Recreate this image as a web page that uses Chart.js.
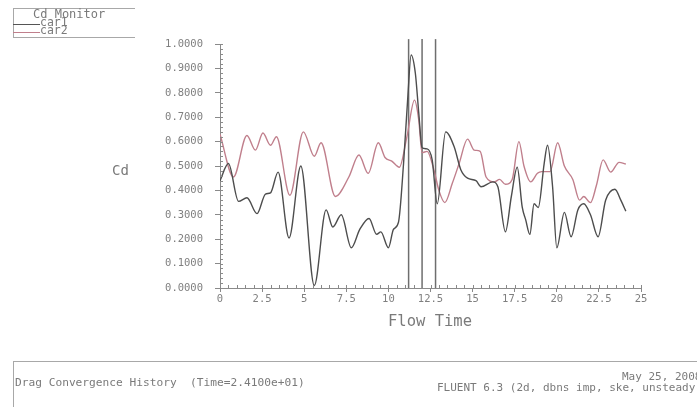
<!DOCTYPE html>
<html>
<head>
<meta charset="utf-8">
<script src="https://cdn.jsdelivr.net/npm/chart.js@4/dist/chart.umd.min.js"></script>
<style>
  html, body { margin: 0; padding: 0; background: #fff; overflow: hidden; }
  #wrap { position: relative; width: 697px; height: 407px; font-family: "DejaVu Sans Mono", monospace; color: #7a7a7a; }
  #wrap canvas { position: absolute; left: 0; top: 0; }
  .txt { position: absolute; white-space: pre; line-height: 1; }
  #legend { position: absolute; left: 13px; top: 8px; width: 122px; height: 30px; border: 1px solid #a8a8a8; border-right: none; box-sizing: border-box; }
  #footer { position: absolute; left: 13px; top: 361px; width: 700px; height: 60px; border: 1px solid #a8a8a8; box-sizing: border-box; }
  .swatch { position: absolute; left: 13px; width: 27px; height: 0; border-top: 1px solid; }
</style>
</head>
<body>
<div id="wrap">
  <canvas id="cdChart" width="697" height="407"></canvas>

  <div id="legend"></div>
  <div class="txt" style="left:33px;top:8px;font-size:12px;">Cd Monitor</div>
  <div class="swatch" style="top:24px;border-color:#555;"></div>
  <div class="txt" style="left:40px;top:17px;font-size:11.5px;">car1</div>
  <div class="swatch" style="top:32px;border-color:#c07f8c;"></div>
  <div class="txt" style="left:40px;top:25px;font-size:11.5px;">car2</div>

  <div class="txt" style="left:112px;top:163px;font-size:14px;">Cd</div>
  <div class="txt" style="left:388px;top:314px;font-size:15.5px;">Flow Time</div>

  <div id="footer"></div>
  <div class="txt" style="left:15px;top:377px;font-size:11.2px;">Drag Convergence History  (Time=2.4100e+01)</div>
  <div class="txt" style="left:622px;top:371px;font-size:11px;">May 25, 2008</div>
  <div class="txt" style="left:437px;top:382px;font-size:11px;">FLUENT 6.3 (2d, dbns imp, ske, unsteady)</div>
</div>

<script>
/* ---- data ---- */
const car1Time = [0, 0.5, 1.1, 1.6, 2.2, 2.7, 3.0, 3.45, 4.1, 4.8, 5.6, 6.3, 6.7, 7.2, 7.8, 8.3, 8.85, 9.3, 9.55,
                  10.0, 10.3, 10.6, 10.9, 11.15, 11.35, 11.6, 11.8, 12.0, 12.3, 12.6, 12.9, 13.4, 13.9, 14.3, 14.7,
                  15.2, 15.5, 16.2, 16.5, 16.95, 17.3, 17.65, 17.95, 18.15, 18.4, 18.65, 18.9, 19.25, 19.45, 19.75,
                  20.0, 20.45, 20.85, 21.25, 21.6, 22.0, 22.45, 22.9, 23.45, 23.8, 24.1];
const car1Cd   = [0.44, 0.51, 0.355, 0.37, 0.305, 0.385, 0.39, 0.475, 0.205, 0.50, 0.01, 0.32, 0.25, 0.30, 0.165, 0.24, 0.285, 0.22, 0.23,
                  0.165, 0.24, 0.27, 0.51, 0.78, 0.955, 0.88, 0.72, 0.575, 0.57, 0.525, 0.345, 0.64, 0.58, 0.485, 0.45,
                  0.44, 0.415, 0.435, 0.415, 0.23, 0.375, 0.495, 0.33, 0.28, 0.22, 0.345, 0.33, 0.51, 0.585, 0.415,
                  0.165, 0.31, 0.21, 0.32, 0.345, 0.30, 0.21, 0.36, 0.405, 0.36, 0.315];

const car2Time = [0, 0.8, 1.6, 2.1, 2.55, 3.0, 3.35, 4.15, 4.95, 5.6, 6.0, 6.85, 7.65, 8.25, 8.8, 9.4, 9.8,
                  10.2, 10.65, 11.1, 11.55, 11.8, 12.0, 12.3, 12.7, 13.0, 13.35, 13.8, 14.2, 14.7, 15.1, 15.45,
                  15.8, 16.3, 16.6, 16.95, 17.35, 17.75, 18.05, 18.45, 18.85, 19.1, 19.6, 20.05, 20.45, 20.95,
                  21.35, 21.6, 22.0, 22.35, 22.75, 23.2, 23.7, 24.1];
const car2Cd   = [0.63, 0.455, 0.625, 0.565, 0.635, 0.585, 0.62, 0.38, 0.64, 0.54, 0.595, 0.375, 0.455, 0.545, 0.47, 0.595, 0.535,
                  0.52, 0.495, 0.62, 0.77, 0.69, 0.555, 0.56, 0.485, 0.40, 0.35, 0.43, 0.51, 0.61, 0.565, 0.56,
                  0.455, 0.435, 0.445, 0.425, 0.445, 0.60, 0.50, 0.435, 0.47, 0.477, 0.477, 0.595, 0.50, 0.445,
                  0.36, 0.375, 0.35, 0.42, 0.525, 0.475, 0.515, 0.508];

const markerTimes = [11.2, 12.0, 12.8];   // the three vertical lines
const markerTop   = 1.02;

const yTicks = [0, 0.1, 0.2, 0.3, 0.4, 0.5, 0.6, 0.7, 0.8, 0.9, 1.0];
const xTicks = [0, 2.5, 5, 7.5, 10, 12.5, 15, 17.5, 20, 22.5, 25];

const zip = (xs, ys) => xs.map((x, i) => ({ x, y: ys[i] }));

const axisGray = '#8a8a8a';
const tickFont = { family: 'DejaVu Sans Mono', size: 10.5 };

/* small inward minor ticks along both axes */
const minorTicks = {
  id: 'minorTicks',
  afterDraw(chart) {
    const { ctx, chartArea: a, scales: { x, y } } = chart;
    ctx.save();
    ctx.strokeStyle = axisGray;
    ctx.lineWidth = 1;
    ctx.beginPath();
    for (let i = 0; i <= 50; i++) {
      const px = Math.round(x.getPixelForValue(i * 0.5)) + 0.5;
      ctx.moveTo(px, a.bottom);
      ctx.lineTo(px, a.bottom - 3);
    }
    for (let i = 0; i <= 50; i++) {
      const py = Math.round(y.getPixelForValue(i * 0.02)) + 0.5;
      ctx.moveTo(a.left, py);
      ctx.lineTo(a.left + 3, py);
    }
    ctx.stroke();
    ctx.restore();
  }
};

const markerSets = markerTimes.map(t => ({
  data: [{ x: t, y: 0 }, { x: t, y: markerTop }],
  borderColor: '#6e6e6e',
  borderWidth: 1.5,
  pointRadius: 0,
  tension: 0,
  clip: false
}));

new Chart(document.getElementById('cdChart'), {
  type: 'line',
  data: {
    datasets: [
      { label: 'car1', data: zip(car1Time, car1Cd), borderColor: '#4d4d4d', borderWidth: 1.4, pointRadius: 0, cubicInterpolationMode: 'monotone' },
      { label: 'car2', data: zip(car2Time, car2Cd), borderColor: '#c07f8c', borderWidth: 1.4, pointRadius: 0, cubicInterpolationMode: 'monotone' },
      ...markerSets
    ]
  },
  options: {
    responsive: false,
    animation: false,
    layout: { padding: { top: 44, right: 56, left: 0, bottom: 0 } },
    plugins: { legend: { display: false }, tooltip: { enabled: false } },
    scales: {
      x: {
        type: 'linear', min: 0, max: 25,
        afterFit: s => { s.height = 119; },
        afterBuildTicks: s => { s.ticks = xTicks.map(value => ({ value })); },
        grid: { drawOnChartArea: false, drawTicks: true, tickLength: 4, color: axisGray },
        border: { color: axisGray, width: 1 },
        ticks: { color: '#7f7f7f', font: tickFont, padding: 1, maxRotation: 0, callback: v => String(v) }
      },
      y: {
        min: 0, max: 1,
        afterFit: s => { s.width = 220; },
        afterBuildTicks: s => { s.ticks = yTicks.map(value => ({ value })); },
        grid: { drawOnChartArea: false, drawTicks: true, tickLength: 5, color: axisGray },
        border: { color: axisGray, width: 1 },
        ticks: { color: '#7f7f7f', font: tickFont, padding: 12, callback: v => Number(v).toFixed(4) }
      }
    }
  },
  plugins: [minorTicks]
});
</script>
</body>
</html>
